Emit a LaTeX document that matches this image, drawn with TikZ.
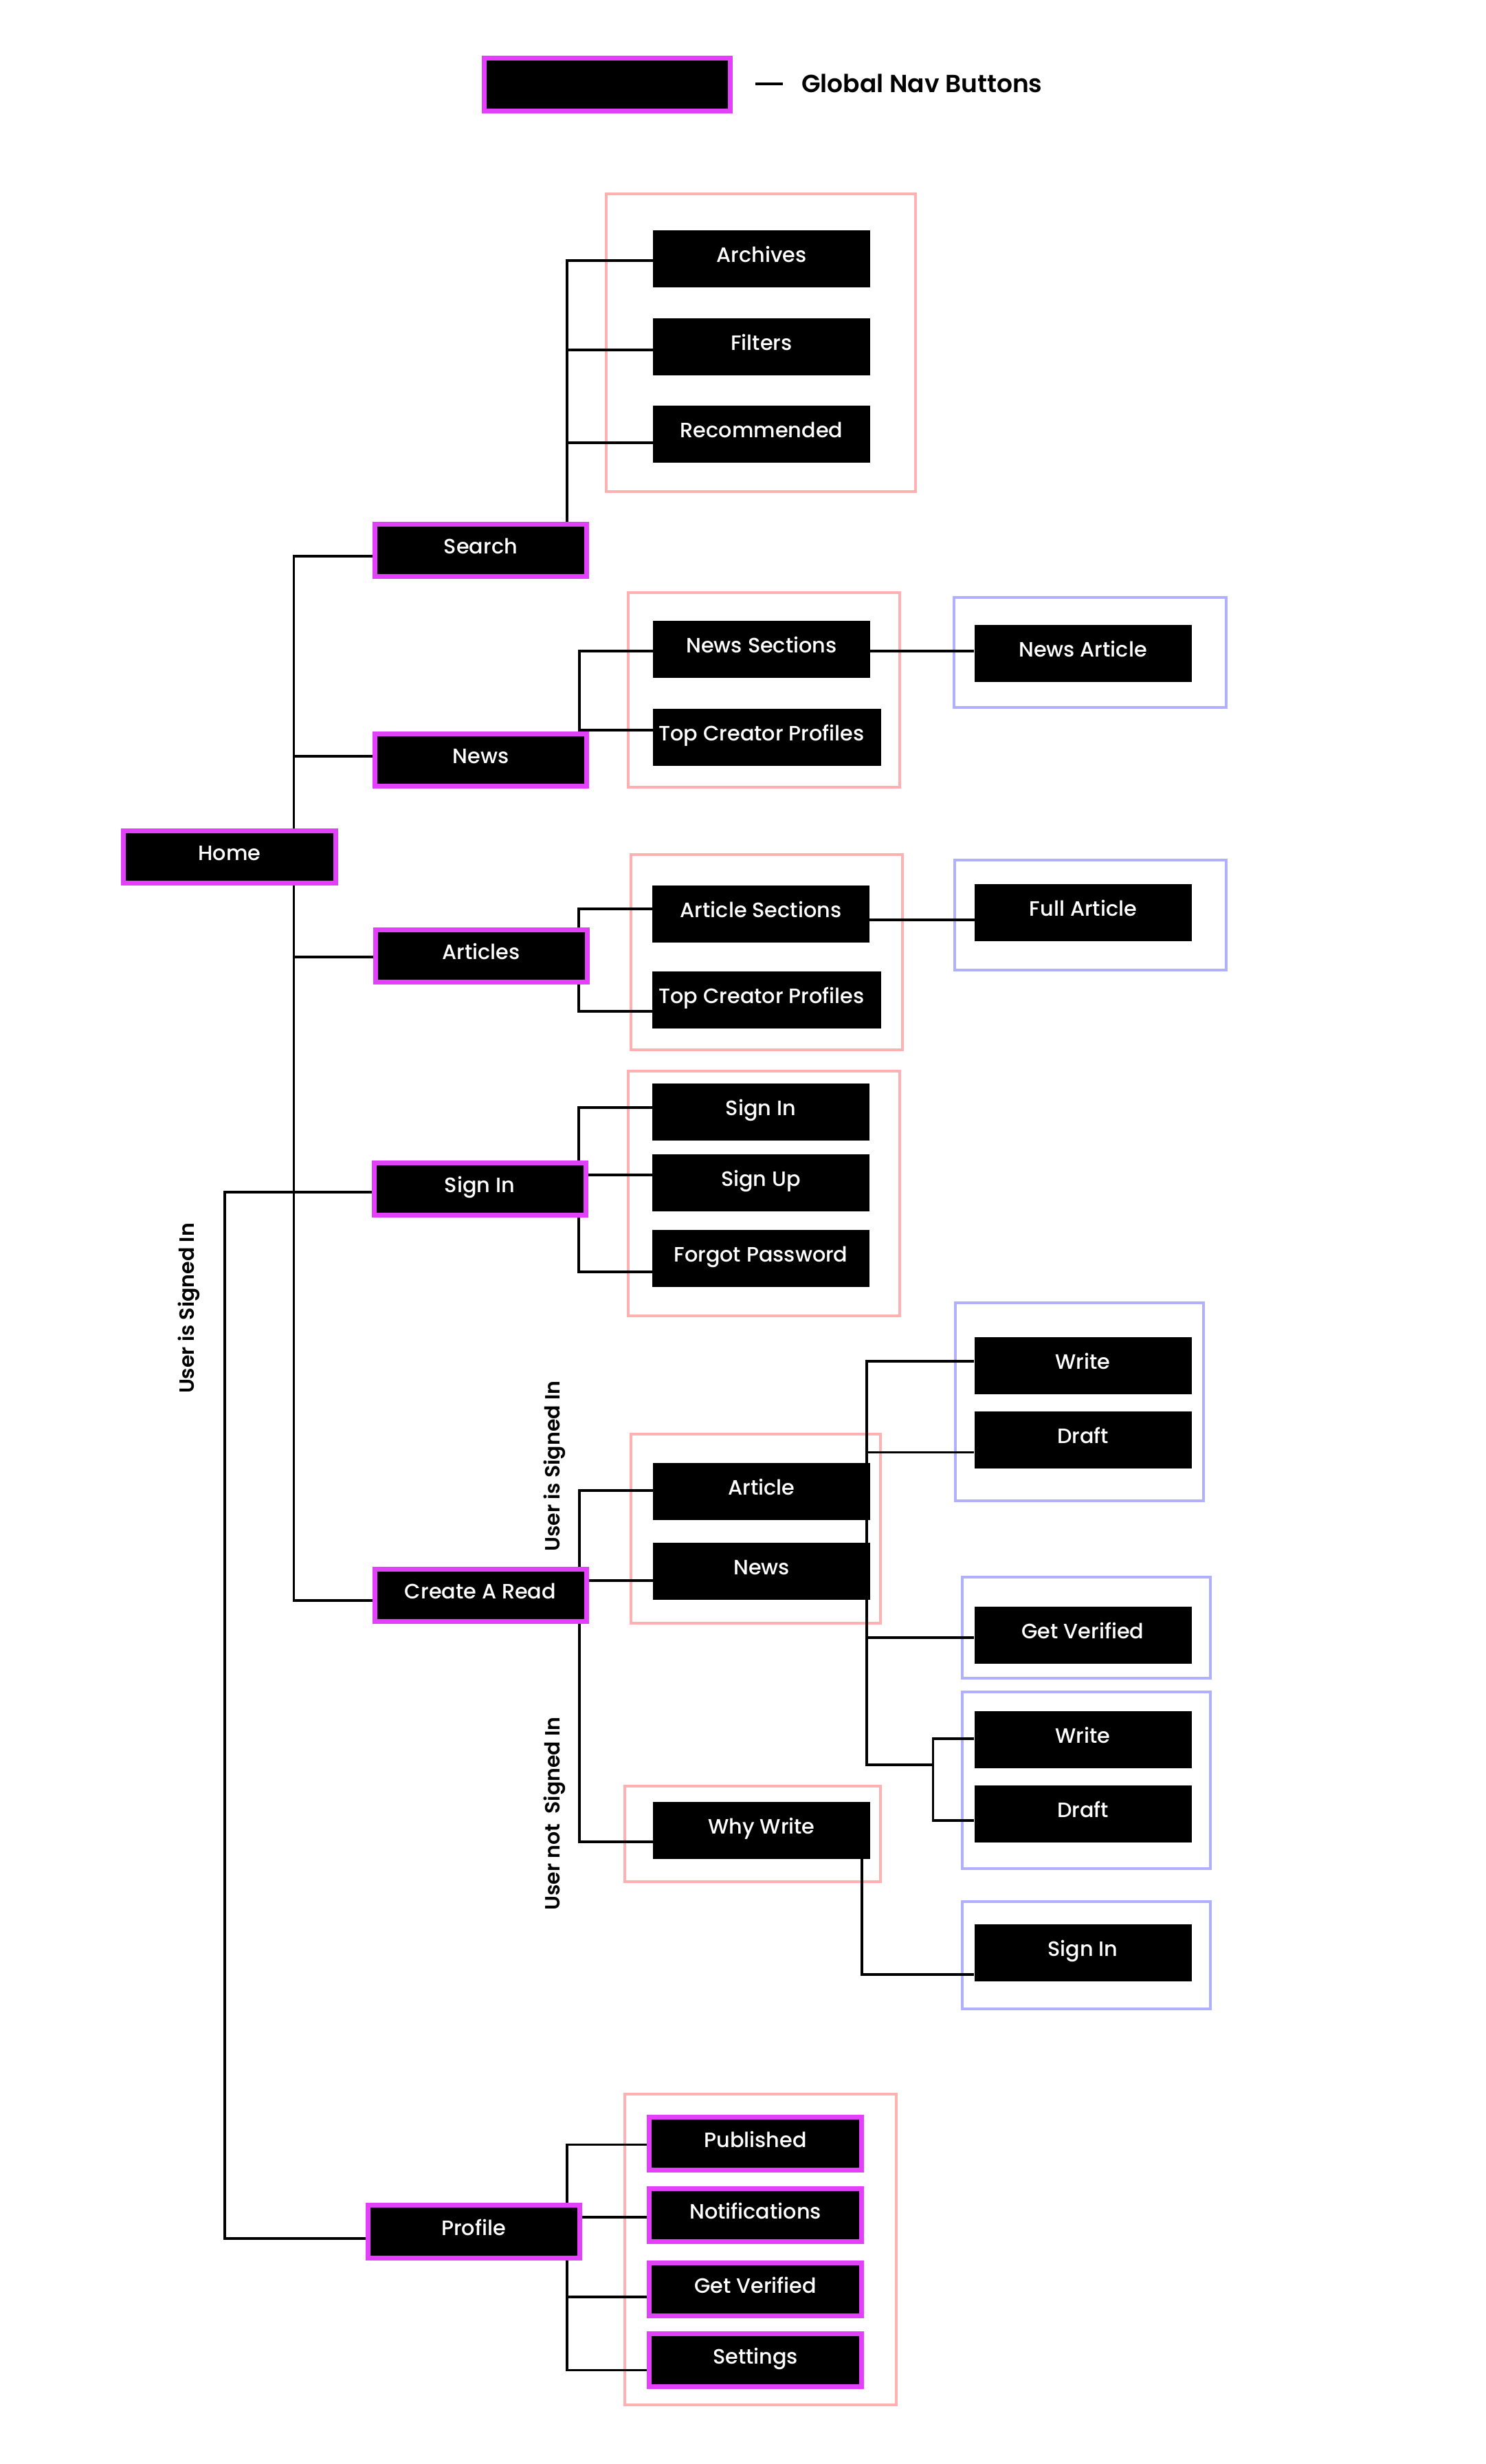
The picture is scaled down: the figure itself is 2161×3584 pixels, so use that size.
\documentclass[tikz,border=0pt]{standalone}
\usepackage{fontspec}
\setmainfont{Poppins}[UprightFont=*-Medium,BoldFont=*-SemiBold]
\pgfdeclarelayer{background}
\pgfsetlayers{background,main}
\definecolor{navmag}{RGB}{227,64,251}
\definecolor{grppink}{RGB}{255,176,176}
\definecolor{grpblue}{RGB}{176,176,255}
\newcommand\btnfont{\fontsize{30.3}{36}\selectfont}
\newcommand\legfont{\fontsize{36}{43}\selectfont\bfseries}
\newcommand\rotfont{\fontsize{30}{36}\selectfont\bfseries}
\begin{document}
\begin{tikzpicture}[x=1pt,y=-1pt,
  btn/.style={fill=black,text=white,minimum width=316pt,minimum height=83pt,inner sep=0pt,font=\btnfont,text height=21pt,text depth=11pt},
  nav/.style={fill=black,draw=navmag,line width=7pt,text=white,minimum width=308pt,minimum height=76pt,inner sep=0pt,font=\btnfont,text height=21pt,text depth=11pt},
  grpP/.style={draw=grppink,line width=4pt},
  grpB/.style={draw=grpblue,line width=4pt},
  conn/.style={draw=black,line width=3.8pt}]
\useasboundingbox (0,0) rectangle (2161,3584);

% legend
\node[nav,minimum width=358pt,minimum height=77pt] (legend) at (883.4,123) {};
\node[anchor=west,font=\legfont,inner sep=0pt] (legendtext) at (1166,121) {Global Nav Buttons};
\coordinate (dashA) at (1099,122);
\coordinate (dashB) at (1139,122);
\draw[line width=4pt] (dashA) -- (dashB);

% nav buttons
\node[nav,minimum width=308.5pt,minimum height=76pt] (home) at (333.8,1246) {Home};
\node[nav] (search) at (699.5,800) {Search};
\node[nav] (news) at (699.5,1105.5) {News};
\node[nav] (articles) at (700,1390.5) {Articles};
\node[nav] (signin) at (698,1729) {Sign In};
\node[nav] (createread) at (699,2320.5) {Create A Read};
\node[nav,minimum height=77pt] (profile) at (689,3246) {Profile};

% search children
\node[btn] (archives) at (1108,376.5) {Archives};
\node[btn] (filters) at (1108,504) {Filters};
\node[btn] (recommended) at (1108,631.5) {Recommended};

% news children
\node[btn] (newssec) at (1108,944.5) {News Sections};
\node[btn,minimum width=332pt] (tcpa) at (1116,1072) {Top Creator Profiles\hspace*{16pt}};
\node[btn] (newsart) at (1575.5,950) {News Article};

% articles children
\node[btn] (artsec) at (1107,1329) {Article Sections};
\node[btn,minimum width=333pt] (tcpb) at (1115.5,1454) {Top Creator Profiles\hspace*{15pt}};
\node[btn] (fullart) at (1576,1327) {Full Article};

% sign in children
\node[btn] (signinc) at (1107,1617) {Sign In};
\node[btn] (signup) at (1107,1720.6) {Sign Up};
\node[btn] (forgot) at (1107,1830) {Forgot Password};

% create a read children
\node[btn] (article) at (1108,2169) {Article};
\node[btn] (newsc) at (1108,2285.5) {News};
\node[btn] (whywrite) at (1108,2662) {Why Write};
\node[btn] (write1) at (1575.5,1986) {Write};
\node[btn] (draft1) at (1575.5,2094) {Draft};
\node[btn] (getver) at (1575.5,2378.5) {Get Verified};
\node[btn] (write2) at (1575.5,2530) {Write};
\node[btn] (draft2) at (1575.5,2638) {Draft};
\node[btn] (signin2) at (1575.5,2840.5) {Sign In};

% profile children
\node[nav,minimum width=309pt,minimum height=77pt] (published) at (1099,3118) {Published};
\node[nav,minimum width=309pt,minimum height=77pt] (notif) at (1099,3222) {Notifications};
\node[nav,minimum width=309pt,minimum height=77pt] (getver2) at (1099,3330) {Get Verified};
\node[nav,minimum width=309pt,minimum height=77pt] (settings) at (1099,3433) {Settings};

% rotated labels
\node[rotate=90,font=\rotfont,inner sep=0pt] (lblA) at (274.7,1903) {User is Signed In};
\node[rotate=90,font=\rotfont,inner sep=0pt] (lblB) at (807,2132.7) {User is Signed In};
\node[rotate=90,font=\rotfont,inner sep=0pt] (lblC) at (807,2638) {User not~ Signed In};

% coordinates for bends
\coordinate (sbA) at (825,379);
\coordinate (sbF) at (825,509);
\coordinate (sbR) at (825,644);
\coordinate (trT) at (427.5,808.6);
\coordinate (trN) at (427.5,1100);
\coordinate (trA) at (427.5,1392);
\coordinate (trB) at (427.5,2328);
\coordinate (lsT) at (326.7,1734);
\coordinate (lsB) at (326.7,3256);
\coordinate (nbT) at (843,947);
\coordinate (nbP) at (843,1062);
\coordinate (abT) at (841.7,1321.7);
\coordinate (abB) at (841.7,1471);
\coordinate (faY) at (1300,1337.8);
\coordinate (ibT) at (841.7,1611);
\coordinate (ibU) at (841.7,1709);
\coordinate (ibB) at (841.7,1849.8);
\coordinate (cbT) at (843,2167.8);
\coordinate (cbN) at (843,2299);
\coordinate (cbB) at (843,2679);
\coordinate (wbT) at (1261,1979.8);
\coordinate (wbD) at (1261,2112.4);
\coordinate (wbG) at (1261,2381.7);
\coordinate (wbB) at (1261,2567);
\coordinate (w2M) at (1357.4,2567);
\coordinate (w2T) at (1357.4,2529);
\coordinate (w2B) at (1357.4,2647.6);
\coordinate (wwB) at (1254,2872);
\coordinate (pbT) at (825,3119.5);
\coordinate (pbN) at (825,3224.8);
\coordinate (pbG) at (825,3341);
\coordinate (pbB) at (825,3447.5);

\begin{pgfonlayer}{background}
\fill[white] (0,0) rectangle (2161,3584);
% group frames
\draw[grpP] (882,281.5) rectangle (1332,715);
\draw[grpP] (914,862) rectangle (1309,1145);
\draw[grpB] (1388,869) rectangle (1784,1029);
\draw[grpP] (917.6,1242.5) rectangle (1313,1526.6);
\draw[grpB] (1389,1250.5) rectangle (1784,1411);
\draw[grpP] (914,1558) rectangle (1309,1914);
\draw[grpB] (1389.5,1895) rectangle (1750.8,2183);
\draw[grpP] (918,2086.4) rectangle (1281,2360.7);
\draw[grpB] (1400,2294) rectangle (1760.7,2441);
\draw[grpB] (1400,2461) rectangle (1760.7,2717.8);
\draw[grpP] (909,2598) rectangle (1281,2737);
\draw[grpB] (1400,2766) rectangle (1760.7,2922);
\draw[grpP] (909.4,3045.7) rectangle (1304,3498);
% connectors
\draw[conn] (search.center -| sbA) -- (sbA) -- (sbA -| archives.west);
\draw[conn] (sbF) -- (sbF -| filters.west);
\draw[conn] (sbR) -- (sbR -| recommended.west);
\draw[conn] (search.west |- trT) -- (trT) -- (trB) -- (trB -| createread.west);
\draw[conn] (trN) -- (trN -| news.west);
\draw[conn] (trA) -- (trA -| articles.west);
\draw[conn] (signin.west |- lsT) -- (lsT) -- (lsB) -- (lsB -| profile.west);
\draw[conn] (news.center -| nbT) -- (nbT) -- (nbT -| newssec.west);
\draw[conn] (nbP) -- (nbP -| tcpa.west);
\draw[conn] (newssec.east |- nbT) -- (newsart.west |- nbT);
\draw[conn] (artsec.west |- abT) -- (abT) -- (abB) -- (abB -| tcpb.west);
\draw[conn] (artsec.east |- faY) -- (fullart.west |- faY);
\draw[conn] (signinc.west |- ibT) -- (ibT) -- (ibB) -- (ibB -| forgot.west);
\draw[conn] (signin.east |- ibU) -- (signup.west |- ibU);
\draw[conn] (article.west |- cbT) -- (cbT) -- (cbB) -- (cbB -| whywrite.west);
\draw[conn] (cbN) -- (cbN -| newsc.west);
\draw[conn] (write1.west |- wbT) -- (wbT) -- (wbB) -- (w2M);
\draw[conn] (wbD) -- (wbD -| draft1.west);
\draw[conn] (wbG) -- (wbG -| getver.west);
\draw[conn] (write2.west |- w2T) -- (w2T) -- (w2B) -- (w2B -| draft2.west);
\draw[conn] (whywrite.south -| wwB) -- (wwB) -- (wwB -| signin2.west);
\draw[conn] (published.west |- pbT) -- (pbT) -- (pbB) -- (pbB -| settings.west);
\draw[conn] (pbN) -- (pbN -| notif.west);
\draw[conn] (pbG) -- (pbG -| getver2.west);
\end{pgfonlayer}
\end{tikzpicture}
\end{document}
